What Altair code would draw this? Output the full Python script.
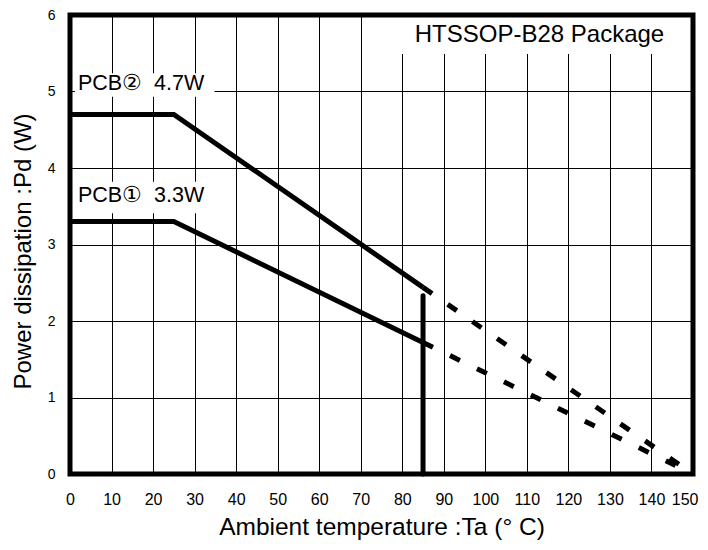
import altair as alt
import pandas as pd

# ---- data ----
pcb2_solid_t = [0, 25, 85]
pcb2_solid_p = [4.7, 4.7, 2.44]
pcb2_dash_t = [85, 150]
pcb2_dash_p = [2.44, 0.0]

pcb1_solid_t = [0, 25, 85]
pcb1_solid_p = [3.3, 3.3, 1.72]
pcb1_dash_t = [85, 150]
pcb1_dash_p = [1.72, 0.0]

tj_limit_t = [85, 85]
tj_limit_p = [0.0, 2.33]

x_ticks = list(range(0, 151, 10))
y_ticks = [0, 1, 2, 3, 4, 5, 6]

label_text = ["PCB②\u00a0 4.7W", "PCB①\u00a0 3.3W"]
label_t = [1.9, 1.9]
label_p = [5.02, 3.56]
label_box_t = [1.2, 1.2]
label_box_t2 = [34.8, 34.2]
label_box_p = [4.93, 3.41]
label_box_p2 = [5.24, 3.82]

pkg_text = ["HTSSOP-B28 Package"]
pkg_t = [83.0]
pkg_p = [5.65]
pkg_box_t = [76.0]
pkg_box_t2 = [150.0]
pkg_box_p = [5.49]
pkg_box_p2 = [6.0]

FONT = "Liberation Sans, Arial, Helvetica, sans-serif"

xs = alt.Scale(domain=[0, 150], nice=False, zero=False)
ys = alt.Scale(domain=[0, 6], nice=False, zero=False)

last_tick = "datum.value == 150"

xax = alt.Axis(values=x_ticks, grid=True, gridColor="#000000", gridWidth=1,
               gridOpacity=1, ticks=False, domain=False, labelFontSize=16,
               labelFont=FONT, labelColor="#000000", labelBaseline="middle",
               labelAlign={"condition": {"test": last_tick, "value": "right"}, "value": "center"},
               labelOffset={"condition": {"test": last_tick, "value": 5}, "value": 0},
               labelPadding=25, labelFlush=False, labelOverlap=False,
               title="Ambient temperature :Ta (°  C)", titleFont=FONT,
               titleFontSize=24.5, titleFontWeight="normal", titleColor="#000000",
               titleBaseline="alphabetic", titleY=60)
yax = alt.Axis(values=y_ticks, grid=True, gridColor="#000000", gridWidth=1,
               gridOpacity=1, ticks=False, domain=False, labelFontSize=14,
               labelFont=FONT, labelColor="#000000", labelPadding=15,
               labelFlush=False, labelOverlap=False,
               title="Power dissipation :Pd (W)", titleFont=FONT,
               titleFontSize=24, titleFontWeight="normal", titleColor="#000000",
               titleBaseline="alphabetic", titleX=-40, titleY=236)


def X(field):
    return alt.X(field, type="quantitative", scale=xs, axis=xax)


def Y(field):
    return alt.Y(field, type="quantitative", scale=ys, axis=yax)


def line_df(ts, ps):
    return pd.DataFrame({"t": ts, "p": ps, "o": list(range(len(ts)))})


boxes = pd.DataFrame({
    "t": label_box_t + pkg_box_t,
    "t2": label_box_t2 + pkg_box_t2,
    "p": label_box_p + pkg_box_p,
    "p2": label_box_p2 + pkg_box_p2,
})

box_layer = alt.Chart(boxes).mark_rect(fill="white", stroke=None).encode(
    x=X("t"), x2="t2", y=Y("p"), y2="p2")

pcb_labels = alt.Chart(pd.DataFrame({"t": label_t, "p": label_p, "txt": label_text})).mark_text(
    align="left", baseline="alphabetic", fontSize=21.5, font=FONT, color="#000000"
).encode(x=X("t"), y=Y("p"), text="txt:N")

pkg_label = alt.Chart(pd.DataFrame({"t": pkg_t, "p": pkg_p, "txt": pkg_text})).mark_text(
    align="left", baseline="alphabetic", fontSize=24, font=FONT, color="#000000"
).encode(x=X("t"), y=Y("p"), text="txt:N")


def solid(ts, ps):
    return alt.Chart(line_df(ts, ps)).mark_line(
        color="#000000", strokeWidth=5, strokeJoin="miter", strokeCap="butt"
    ).encode(x=X("t"), y=Y("p"), order="o:Q")


def dashed(ts, ps):
    return alt.Chart(line_df(ts, ps)).mark_line(
        color="#000000", strokeWidth=5, strokeCap="butt", strokeDash=[11, 19]
    ).encode(x=X("t"), y=Y("p"), order="o:Q")


limit = alt.Chart(line_df(tj_limit_t, tj_limit_p)).mark_line(
    color="#000000", strokeWidth=5, strokeCap="round"
).encode(x=X("t"), y=Y("p"), order="o:Q")

border = alt.Chart(pd.DataFrame({"k": [0]})).mark_rect(
    filled=False, stroke="#000000", strokeWidth=5, fill=None
).encode(x=alt.value(0), x2=alt.value("width"), y=alt.value(0), y2=alt.value("height"))

chart = alt.layer(
    box_layer, pcb_labels, pkg_label,
    solid(pcb2_solid_t, pcb2_solid_p), dashed(pcb2_dash_t, pcb2_dash_p),
    solid(pcb1_solid_t, pcb1_solid_p), dashed(pcb1_dash_t, pcb1_dash_p),
    limit, border
).properties(
    width=623, height=459,
    autosize=alt.AutoSizeParams(type="none"),
    padding={"left": 62, "top": 7, "right": 6, "bottom": 68},
    background="white"
).configure_view(stroke=None)

chart.save("out.html", embed_options={"renderer": "svg", "actions": False})
